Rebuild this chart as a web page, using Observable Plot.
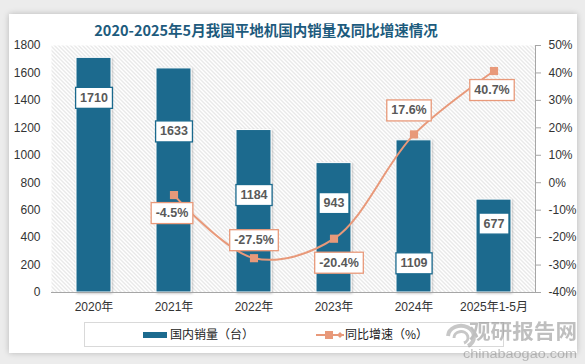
<!DOCTYPE html>
<html><head><meta charset="utf-8">
<script src="https://cdn.jsdelivr.net/npm/d3@7"></script>
<script src="https://cdn.jsdelivr.net/npm/@observablehq/plot@0.6"></script>
<style>
body{margin:0;width:585px;height:364px;background:#ececec;position:relative;overflow:hidden;font-family:"Liberation Sans","Noto Sans CJK SC",sans-serif;}
#card{position:absolute;left:9px;top:14px;width:568px;height:339px;background:#fff;box-shadow:0 0 6px rgba(0,0,0,.22);}
#title{position:absolute;left:0;width:532px;top:20px;text-align:center;font-weight:bold;font-size:14.5px;line-height:20px;font-family:"Noto Sans CJK SC",sans-serif;color:#1d5b7d;}
#chart{position:absolute;left:0;top:35px;}
#legend{position:absolute;left:84px;top:322px;width:418px;height:23px;border:1px solid #d9d9d9;background:#fff;}
.li{position:absolute;top:3px;font-size:12px;line-height:16px;color:#222;font-family:"Noto Sans CJK SC",sans-serif;}
#wm{position:absolute;left:440px;top:313px;width:145px;height:50px;pointer-events:none;}
</style></head>
<body>
<div id="card"></div>
<div id="title">2020-2025年5月我国平地机国内销量及同比增速情况</div>
<div id="chart"></div>
<div id="legend">
  <svg style="position:absolute;left:58px;top:9px" width="24" height="7"><rect width="24" height="6" fill="#1b6a8e"/></svg>
  <div class="li" style="left:85px">国内销量（台）</div>
  <svg style="position:absolute;left:231px;top:5px" width="28" height="14"><line x1="0" y1="7" x2="28" y2="7" stroke="#e8997a" stroke-width="2"/><rect x="9" y="3" width="8" height="8" fill="#e8997a"/><path d="M24,4 L27,7 L24,10 L21,7Z" fill="#e8997a"/></svg>
  <div class="li" style="left:260px">同比增速（%）</div>
</div>
<svg id="wm" width="145" height="50">
  <g opacity="0.55">
    <path d="M8,23 a13,11 0 1,1 20,10" fill="none" stroke="#9a9a9a" stroke-width="4"/>
    <path d="M14,25 a7,6 0 1,1 10,5" fill="none" stroke="#9a9a9a" stroke-width="3"/>
    <text x="29" y="26" font-size="20" font-weight="bold" fill="#8c8c8c" font-family="Noto Sans CJK SC" textLength="108" lengthAdjust="spacingAndGlyphs">观研报告网</text>
    <text x="23" y="45" font-size="12.5" fill="#8c8c8c" font-family="Liberation Sans" textLength="114" lengthAdjust="spacingAndGlyphs">chinabaogao.com</text>
  </g>
</svg>
<script>
// ---- data ----
const years = ["2020年", "2021年", "2022年", "2023年", "2024年", "2025年1-5月"];
const sales = [1710, 1633, 1184, 943, 1109, 677];
const growthYears = ["2021年", "2022年", "2023年", "2024年", "2025年1-5月"];
const growth = [-4.5, -27.5, -20.4, 17.6, 40.7];
const leftTicks = [0, 200, 400, 600, 800, 1000, 1200, 1400, 1600, 1800];
const rightTicks = [-40, -30, -20, -10, 0, 10, 20, 30, 40, 50];

// ---- label placement (pixel offsets, style only) ----
const barLabelDy = [40, 63, 65, 40, 123, 24];
const growthLabelDx = [-2, 0, 5, -5, -2];
const growthLabelDy = [18, -18, 24, -24, 19];

const BLUE = "#1b6a8e", ORANGE = "#e8997a", AXIS = "#a6a6a6";

// map right-axis percentage onto the left (sales) scale
const rMin = rightTicks[0], rMax = rightTicks[rightTicks.length - 1];
const lMin = leftTicks[0], lMax = leftTicks[leftTicks.length - 1];
const toLeft = p => lMin + (p - rMin) / (rMax - rMin) * (lMax - lMin);

const bars = years.map((y, i) => ({year: y, value: sales[i]}));
const pts = growthYears.map((y, i) => ({year: y, pct: growth[i], v: toLeft(growth[i])}));

const labelStyle = {fontSize: 12.5, fontWeight: "bold", fill: "#595959"};

const svg = Plot.plot({
  width: 585, height: 285,
  marginLeft: 51, marginRight: 50, marginTop: 10, marginBottom: 28,
  x: {domain: years, paddingInner: 0.566, paddingOuter: 0.283, label: null},
  y: {domain: [lMin, lMax], label: null},
  style: {fontFamily: "'Liberation Sans','Noto Sans CJK SC',sans-serif", fontSize: "12px", color: "#333", background: "transparent", overflow: "visible"},
  marks: [
    Plot.frame({fill: "#fff", stroke: null}),
    Plot.barY(bars, {x: "year", y: "value", fill: BLUE, stroke: "#fff", strokeWidth: 1}),
    Plot.ruleY([lMin], {stroke: AXIS, strokeWidth: 1}),
    Plot.frame({anchor: "right", stroke: AXIS}),
    Plot.axisY({anchor: "left", ticks: leftTicks, tickFormat: d => String(d), tickSize: 0, tickPadding: 11, label: null}),
    Plot.axisY({anchor: "right", ticks: leftTicks, tickFormat: d => rightTicks[leftTicks.indexOf(d)] + "%", tickSize: 5, tickPadding: 8, stroke: AXIS, label: null}),
    Plot.axisX({tickSize: 0, tickPadding: 10, label: null}),
    Plot.line(pts, {x: "year", y: "v", curve: "catmull-rom", stroke: ORANGE, strokeWidth: 2}),
    Plot.dot(pts, {x: "year", y: "v", symbol: "square", r: 4.6, fill: ORANGE, stroke: null}),
    ...bars.map((d, i) => Plot.text([d], {x: "year", y: "value", text: d => String(d.value), dy: barLabelDy[i], ...labelStyle})),
    ...pts.map((d, i) => Plot.text([d], {x: "year", y: "v", text: d => d.pct.toFixed(1) + "%", dx: growthLabelDx[i], dy: growthLabelDy[i], ...labelStyle}))
  ]
});
document.getElementById("chart").appendChild(svg);

// hatch pattern background
const ns = "http://www.w3.org/2000/svg";
const defs = document.createElementNS(ns, "defs");
defs.innerHTML = '<pattern id="hatch" patternUnits="userSpaceOnUse" width="4" height="4">' +
  '<rect width="4" height="4" fill="#fff"/>' +
  '<path d="M-1,-1 L5,5 M-1,3 L1,5 M3,-1 L5,1" stroke="#d2d2d2" stroke-width="1"/></pattern>' +
  '<filter id="sh" x="-20%" y="-5%" width="140%" height="110%"><feDropShadow dx="1" dy="1" stdDeviation="1" flood-color="#000" flood-opacity="0.25"/></filter>';
svg.insertBefore(defs, svg.firstChild);
const frames = svg.querySelectorAll('g[aria-label="frame"], rect[aria-label="frame"]');
if (frames.length) {
  const f = frames[0];
  const r = f.tagName === "rect" ? f : f.querySelector("rect");
  if (r) r.setAttribute("fill", "url(#hatch)");
}
const barG = svg.querySelector('g[aria-label="bar"]');
if (barG) barG.setAttribute("filter", "url(#sh)");

// boxes behind data labels
const textGroups = svg.querySelectorAll('g[aria-label="text"]');
textGroups.forEach((g, gi) => {
  const color = gi < bars.length ? BLUE : ORANGE;
  g.querySelectorAll("text").forEach(t => {
    const b = t.getBBox();
    const rect = document.createElementNS(ns, "rect");
    rect.setAttribute("x", b.x - 4.5);
    rect.setAttribute("y", b.y - 3.5);
    rect.setAttribute("width", b.width + 9);
    rect.setAttribute("height", b.height + 7);
    rect.setAttribute("fill", "#fff");
    rect.setAttribute("stroke", color);
    rect.setAttribute("stroke-width", 1.3);
    const tr = t.getAttribute("transform");
    if (tr) rect.setAttribute("transform", tr);
    g.insertBefore(rect, t);
  });
});
</script>
</body></html>
